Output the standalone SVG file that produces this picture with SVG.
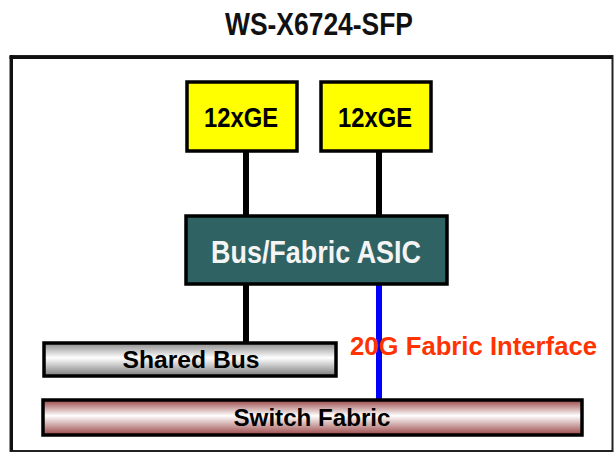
<svg xmlns="http://www.w3.org/2000/svg" width="615" height="455" viewBox="0 0 615 455">
<defs>
<linearGradient id="gGrey" x1="0" y1="0" x2="0" y2="1">
<stop offset="0" stop-color="#8a8a8a"/>
<stop offset="0.45" stop-color="#ffffff"/>
<stop offset="1" stop-color="#7a7a7a"/>
</linearGradient>
<linearGradient id="gRed" x1="0" y1="0" x2="0" y2="1">
<stop offset="0" stop-color="#9a4646"/>
<stop offset="0.45" stop-color="#ffffff"/>
<stop offset="1" stop-color="#9a4646"/>
</linearGradient>
</defs>
<style>
text{font-family:"Liberation Sans",Arial,sans-serif;font-weight:bold;text-anchor:middle}
.box{stroke:#000;stroke-width:3.5}
.ln{stroke:#000;stroke-width:6}
</style>
<rect width="615" height="455" fill="#fff"/>
<text x="319" y="35" font-size="31" textLength="188" lengthAdjust="spacingAndGlyphs" fill="#111">WS-X6724-SFP</text>
<g id="frame">
<rect x="10.5" y="56" width="602" height="395" fill="#fff" stroke="#222" stroke-width="2"/>
<path d="M9.5 57.5 H612 M11.5 55 V451" stroke="#111" stroke-width="3" fill="none"/>
</g>
<g id="connectors">
<line class="ln" x1="246" y1="152" x2="246" y2="215"/>
<line class="ln" x1="379" y1="152" x2="379" y2="215"/>
<line class="ln" x1="246" y1="285" x2="246" y2="342"/>
<line x1="379" y1="285" x2="379" y2="399" stroke="#0000ff" stroke-width="6"/>
</g>
<g id="ge1">
<rect class="box" x="187" y="82" width="110" height="69" fill="#ffff00"/>
<text x="241" y="127" font-size="28" textLength="74" lengthAdjust="spacingAndGlyphs" fill="#000">12xGE</text>
</g>
<g id="ge2">
<rect class="box" x="321" y="82" width="110" height="69" fill="#ffff00"/>
<text x="375" y="127" font-size="28" textLength="74" lengthAdjust="spacingAndGlyphs" fill="#000">12xGE</text>
</g>
<g id="asic">
<rect class="box" x="186" y="216" width="261" height="68" fill="#2f6262"/>
<text x="316" y="263" font-size="32" textLength="210" lengthAdjust="spacingAndGlyphs" fill="#f4f4f4">Bus/Fabric ASIC</text>
</g>
<g id="sharedbus">
<rect class="box" x="44" y="343" width="292" height="33" fill="url(#gGrey)"/>
<text x="191" y="368" font-size="24" textLength="137" lengthAdjust="spacingAndGlyphs" fill="#000">Shared Bus</text>
</g>
<g id="switchfabric">
<rect class="box" x="43" y="400" width="539" height="35" fill="url(#gRed)"/>
<text x="312" y="426" font-size="24" textLength="157" lengthAdjust="spacingAndGlyphs" fill="#000">Switch Fabric</text>
</g>
<g id="label">
<text x="473.5" y="355" font-size="25" textLength="247" lengthAdjust="spacingAndGlyphs" fill="#ff3300">20G Fabric Interface</text>
</g>
</svg>
